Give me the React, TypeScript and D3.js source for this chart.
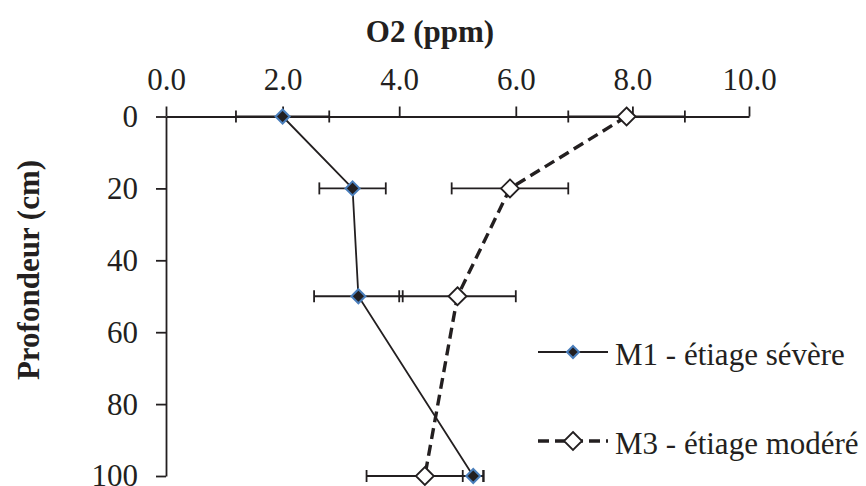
import React, { useEffect, useRef } from "react";
import * as d3 from "d3";

const depths = [0, 20, 50, 100];
const m1Values = [2.0, 3.2, 3.3, 5.27];
const m1Errors = [0.8, 0.57, 0.76, 0.18];
const m3Values = [7.9, 5.9, 5.0, 4.44];
const m3Errors = [1.0, 1.0, 1.0, 1.0];
const xTicks = [0, 2, 4, 6, 8, 10];
const yTicks = [0, 20, 40, 60, 80, 100];
const seriesNames = ["M1 - étiage sévère", "M3 - étiage modéré"];
const xTitle = "O2 (ppm)";
const yTitle = "Profondeur (cm)";

const W = 866;
const H = 486;
const FONT = '"Liberation Serif", "Times New Roman", Times, serif';
const INK = "#231f20";

const x = d3.scaleLinear().domain([0, 10]).range([166, 749]);
const y = d3.scaleLinear().domain([0, 100]).range([116.5, 476]);

const diamond = (r: number) => `M0,${-r}L${r},0L0,${r}L${-r},0Z`;

const textStyle = (size: number, bold = false): React.CSSProperties => ({
  fontFamily: FONT,
  fontSize: `${size}px`,
  fontWeight: bold ? 700 : 400,
});

export default function App() {
  const xAxisRef = useRef<SVGGElement>(null);
  const yAxisRef = useRef<SVGGElement>(null);

  useEffect(() => {
    const gx = d3.select(xAxisRef.current!);
    gx.call(
      d3
        .axisTop(x)
        .tickValues(xTicks)
        .tickSize(10)
        .tickSizeOuter(0)
        .tickPadding(17)
        .tickFormat(d3.format(".1f") as any)
    );
    gx.attr("font-family", null).attr("font-size", null);
    gx.selectAll("path.domain").attr("stroke", INK).attr("stroke-width", 1.8);
    gx.selectAll(".tick line").attr("stroke", INK).attr("stroke-width", 1.8);
    gx.selectAll(".tick text")
      .attr("fill", INK)
      .style("font-family", FONT)
      .style("font-size", "31px");

    const gy = d3.select(yAxisRef.current!);
    gy.call(
      d3
        .axisLeft(y)
        .tickValues(yTicks)
        .tickSize(10)
        .tickSizeOuter(0)
        .tickPadding(18)
        .tickFormat(d3.format("d") as any)
    );
    gy.attr("font-family", null).attr("font-size", null);
    gy.selectAll("path.domain").attr("stroke", INK).attr("stroke-width", 1.8);
    gy.selectAll(".tick line").attr("stroke", INK).attr("stroke-width", 1.8);
    gy.selectAll(".tick text")
      .attr("fill", INK)
      .style("font-family", FONT)
      .style("font-size", "31px");
  }, []);

  const m1Line = d3
    .line<number>()
    .x((_, i) => x(m1Values[i]))
    .y((_, i) => y(depths[i]));
  const m3Line = d3
    .line<number>()
    .x((_, i) => x(m3Values[i]))
    .y((_, i) => y(depths[i]));

  const errBars = (vals: number[], errs: number[], key: string) =>
    vals.map((v, i) => {
      const yy = y(depths[i]);
      const x0 = x(v - errs[i]);
      const x1 = x(v + errs[i]);
      return (
        <g key={key + i} stroke={INK} strokeWidth={1.8}>
          <line x1={x0} x2={x1} y1={yy} y2={yy} />
          <line x1={x0} x2={x0} y1={yy - 6} y2={yy + 6} />
          <line x1={x1} x2={x1} y1={yy - 6} y2={yy + 6} />
        </g>
      );
    });

  const legendX0 = 538;
  const legendX1 = 608;
  const legendMid = 573;
  const legendY = [352, 441];

  return (
    <svg
      width={W}
      height={H}
      style={{ position: "absolute", left: 0, top: 0, background: "#fff", fontFamily: FONT }}
    >
      <rect x={0} y={0} width={W} height={H} fill="#fff" />
      <g ref={xAxisRef} transform={`translate(0,${y(0)})`} />
      <g ref={yAxisRef} transform={`translate(${x(0)},0)`} />

      {errBars(m1Values, m1Errors, "e1")}
      {errBars(m3Values, m3Errors, "e3")}

      <path d={m1Line(depths) || ""} fill="none" stroke={INK} strokeWidth={1.8} />
      <path
        d={m3Line(depths) || ""}
        fill="none"
        stroke={INK}
        strokeWidth={3.4}
        strokeDasharray="11,6"
      />

      {m1Values.map((v, i) => (
        <path
          key={"m1" + i}
          d={diamond(7)}
          transform={`translate(${x(v)},${y(depths[i])})`}
          fill={INK}
          stroke="#4a7ebb"
          strokeWidth={2}
        />
      ))}
      {m3Values.map((v, i) => (
        <path
          key={"m3" + i}
          d={diamond(9)}
          transform={`translate(${x(v)},${y(depths[i])})`}
          fill="#fff"
          stroke={INK}
          strokeWidth={1.8}
        />
      ))}

      <text x={430} y={42} textAnchor="middle" fill={INK} style={textStyle(31, true)}>
        {xTitle}
      </text>
      <text
        transform={`translate(39,270) rotate(-90)`}
        textAnchor="middle"
        fill={INK}
        style={textStyle(31, true)}
      >
        {yTitle}
      </text>

      {/* Legend */}
      <line
        x1={legendX0}
        x2={legendX1}
        y1={legendY[0]}
        y2={legendY[0]}
        stroke={INK}
        strokeWidth={1.8}
      />
      <path
        d={diamond(6)}
        transform={`translate(${legendMid},${legendY[0]})`}
        fill={INK}
        stroke="#4a7ebb"
        strokeWidth={2}
      />
      <text x={615} y={legendY[0] + 13} fill={INK} style={textStyle(31)}>
        {seriesNames[0]}
      </text>

      <line
        x1={legendX0}
        x2={legendX1}
        y1={legendY[1]}
        y2={legendY[1]}
        stroke={INK}
        strokeWidth={3.4}
        strokeDasharray="11,6"
      />
      <path
        d={diamond(9)}
        transform={`translate(${legendMid},${legendY[1]})`}
        fill="#fff"
        stroke={INK}
        strokeWidth={1.8}
      />
      <text x={615} y={legendY[1] + 13} fill={INK} style={textStyle(31)}>
        {seriesNames[1]}
      </text>
    </svg>
  );
}
